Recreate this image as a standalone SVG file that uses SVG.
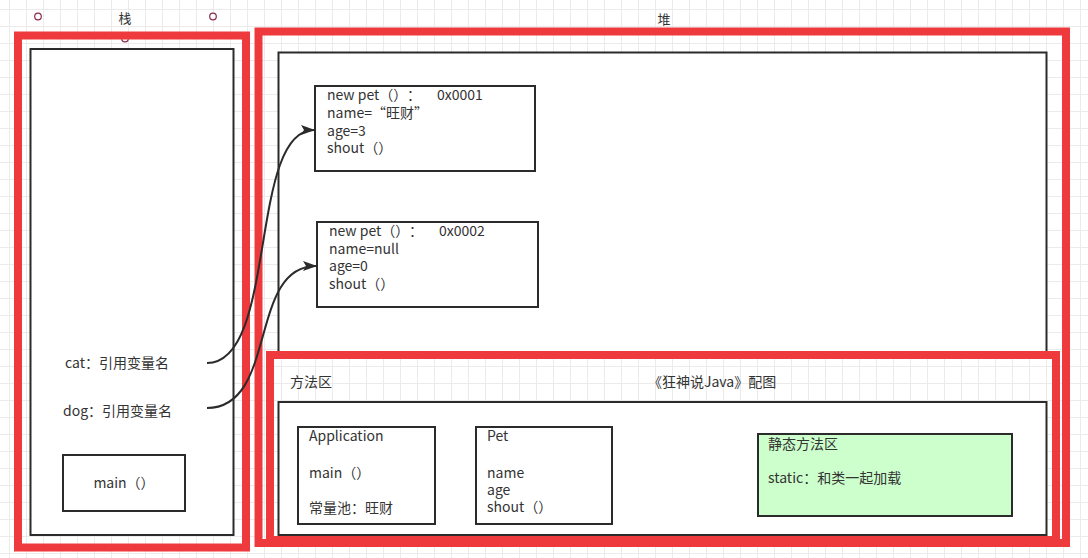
<svg xmlns="http://www.w3.org/2000/svg" width="1088" height="558" viewBox="0 0 1088 558">
<style>
text{font-family:"Noto Sans CJK SC","Microsoft YaHei",sans-serif;font-size:14px;fill:#333;}
.t{font-size:13px;}
.red{fill:none;stroke:#ef3a3d;stroke-width:8;}
.blk{fill:#fff;stroke:#2b2b2b;stroke-width:2;}
.handle{fill:#fff;stroke:#8a2a4a;stroke-width:1.2;}
.edge{fill:none;stroke:#2b2b2b;stroke-width:2;}
</style>
<defs>
<pattern id="grid" patternUnits="userSpaceOnUse" x="9" y="9" width="17" height="17">
<path d="M0.5 0V17M0 0.5H17" stroke="#ebebeb" stroke-width="1" fill="none"/>
</pattern>
<marker id="arr" viewBox="0 0 14 10" refX="13" refY="5" markerWidth="14" markerHeight="10" markerUnits="userSpaceOnUse" orient="auto">
<path d="M0 0L14 5L0 10L3 5Z" fill="#2b2b2b"/>
</marker>
</defs>
<rect width="1088" height="558" fill="#fff"/>
<rect width="1088" height="558" fill="url(#grid)"/>

<g id="labels">
<circle class="handle" cx="38" cy="16.5" r="3.3"/>
<circle class="handle" cx="213" cy="16.5" r="3.3"/>
<circle class="handle" cx="125" cy="38.5" r="3.3"/>
<text class="t" x="125" y="23" text-anchor="middle">栈</text>
<text class="t" x="664" y="24" text-anchor="middle">堆</text>
</g>

<g id="stack">
<rect class="red" x="18" y="35.5" width="228" height="512"/>
<rect class="blk" x="30.5" y="49" width="203" height="486"/>
<text x="65" y="368">cat：引用变量名</text>
<text x="63" y="416">dog：引用变量名</text>
</g>

<g id="main-frame">
<rect class="blk" x="63" y="455" width="122" height="56"/>
<text x="124" y="488" text-anchor="middle">main（）</text>
</g>

<g id="heap">
<rect class="red" x="258.5" y="31.5" width="807.5" height="511.5"/>
<rect class="blk" x="278.5" y="52.5" width="768" height="303"/>
</g>

<g id="pet1">
<rect class="blk" x="315" y="86" width="220" height="85"/>
<text x="327" y="100">new pet（）</text>
<text x="407" y="100">：</text>
<text x="437" y="100">0x0001</text>
<text x="327" y="118">name=“旺财”</text>
<text x="327" y="135.5">age=3</text>
<text x="327" y="153">shout（）</text>
</g>

<g id="pet2">
<rect class="blk" x="317" y="222" width="221" height="85"/>
<text x="329" y="236">new pet（）</text>
<text x="409" y="236">：</text>
<text x="439" y="236">0x0002</text>
<text x="329" y="253.5">name=null</text>
<text x="329" y="271">age=0</text>
<text x="329" y="288.5">shout（）</text>
</g>

<g id="method-area">
<rect class="red" x="270" y="355" width="786" height="185"/>
<rect class="blk" x="278.5" y="402" width="768" height="133"/>
<text x="290" y="387">方法区</text>
<text x="648" y="387">《狂神说Java》配图</text>
</g>

<g id="application">
<rect class="blk" x="298" y="427" width="137" height="97"/>
<text x="309" y="441">Application</text>
<text x="309" y="477.5">main（）</text>
<text x="309" y="513">常量池：旺财</text>
</g>

<g id="pet-class">
<rect class="blk" x="476" y="427" width="136" height="97"/>
<text x="487" y="441">Pet</text>
<text x="487" y="477.5">name</text>
<text x="487" y="494.5">age</text>
<text x="487" y="512">shout（）</text>
</g>

<g id="static-area">
<rect x="758" y="434" width="254" height="82" fill="#ccffcc" stroke="#2b2b2b" stroke-width="2"/>
<text x="768" y="449">静态方法区</text>
<text x="768" y="483">static：和类一起加载</text>
</g>

<g id="connectors">
<path class="edge" d="M207 363C278 363 248 130 314 130" marker-end="url(#arr)"/>
<path class="edge" d="M207 408C278 408 248 266 316 266" marker-end="url(#arr)"/>
</g>
</svg>
